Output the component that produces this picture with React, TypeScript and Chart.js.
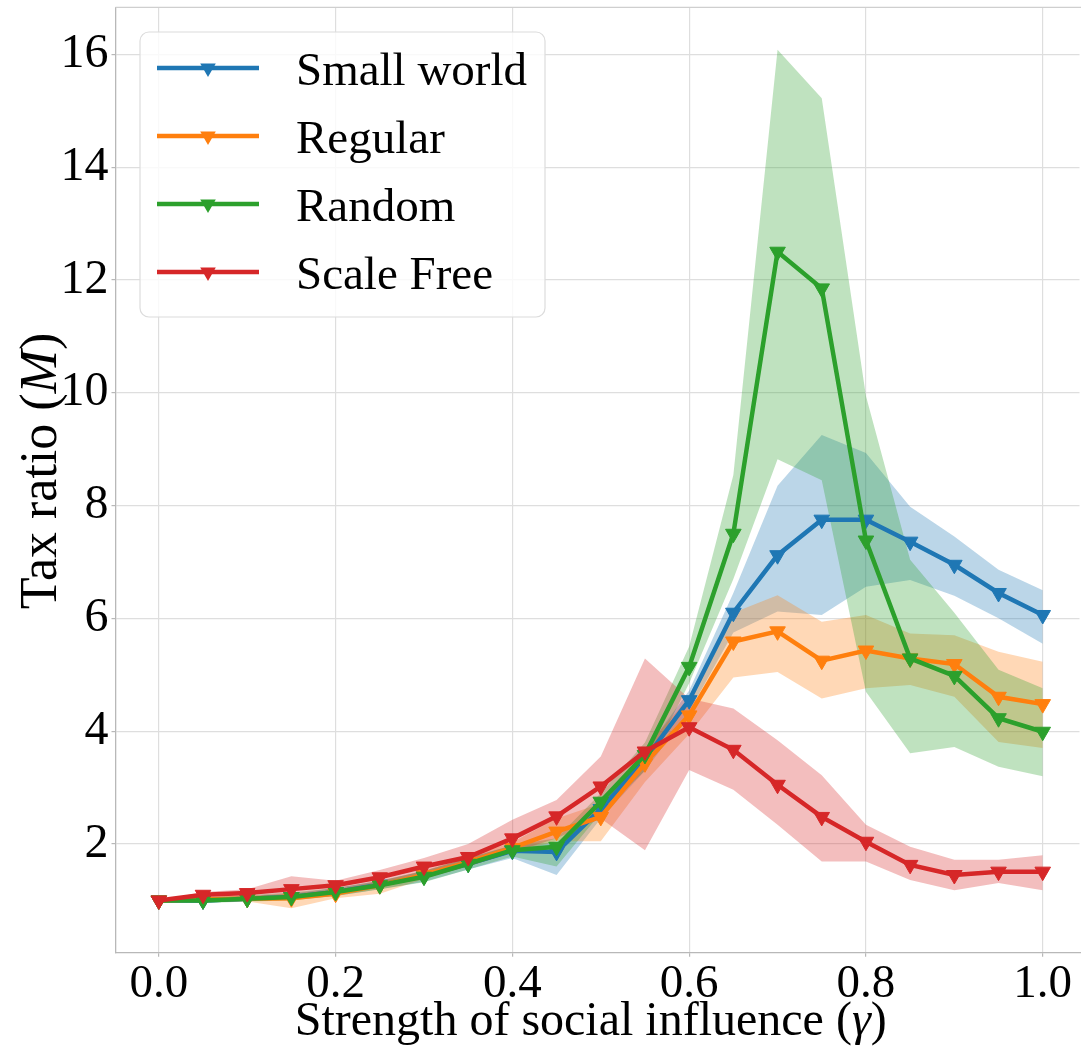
import { useEffect, useRef } from 'react';
import { Chart, registerables } from 'chart.js';

Chart.register(...registerables);

// ---------- data ----------
const gammas = [0, 0.05, 0.1, 0.15, 0.2, 0.25, 0.3, 0.35, 0.4, 0.45, 0.5, 0.55, 0.6, 0.65, 0.7, 0.75, 0.8, 0.85, 0.9, 0.95, 1.0];

const seriesNames = ['Small world', 'Regular', 'Random', 'Scale Free'];
const seriesColors = ['#1f77b4', '#ff7f0e', '#2ca02c', '#d62728'];

const smallWorldMean = [1.0, 1.0, 1.03, 1.06, 1.15, 1.28, 1.43, 1.65, 1.88, 1.86, 2.62, 3.5, 4.55, 6.1, 7.12, 7.75, 7.75, 7.36, 6.95, 6.45, 6.06];
const smallWorldUpper = [1.0, 1.04, 1.07, 1.12, 1.22, 1.35, 1.52, 1.75, 1.98, 2.02, 2.75, 3.65, 4.72, 6.45, 8.35, 9.25, 8.93, 7.98, 7.45, 6.86, 6.5];
const smallWorldLower = [1.0, 0.96, 0.99, 1.01, 1.08, 1.2, 1.33, 1.55, 1.75, 1.45, 2.45, 3.3, 4.35, 5.75, 6.12, 6.06, 6.56, 6.68, 6.4, 6.0, 5.55];

const regularMean = [1.0, 1.02, 1.03, 1.04, 1.12, 1.27, 1.45, 1.68, 1.93, 2.22, 2.48, 3.43, 4.28, 5.59, 5.77, 5.25, 5.43, 5.29, 5.19, 4.61, 4.48];
const regularUpper = [1.0, 1.06, 1.08, 1.12, 1.19, 1.34, 1.53, 1.77, 2.03, 2.45, 2.72, 3.7, 4.6, 6.1, 6.41, 5.94, 6.06, 5.73, 5.7, 5.41, 5.23];
const regularLower = [1.0, 0.98, 0.98, 0.86, 1.04, 1.12, 1.38, 1.6, 1.85, 2.05, 2.05, 3.1, 3.95, 4.95, 5.05, 4.58, 4.76, 4.82, 4.61, 3.81, 3.7];

const randomMean = [1.0, 1.0, 1.03, 1.06, 1.15, 1.27, 1.42, 1.65, 1.89, 1.95, 2.75, 3.58, 5.14, 7.5, 12.5, 11.85, 7.38, 5.29, 4.98, 4.23, 3.99];
const randomUpper = [1.0, 1.05, 1.09, 1.14, 1.22, 1.35, 1.52, 1.75, 1.98, 2.1, 2.9, 3.8, 5.5, 8.54, 16.08, 15.22, 9.94, 7.04, 6.1, 5.09, 4.76];
const randomLower = [1.0, 0.95, 0.98, 1.0, 1.08, 1.2, 1.32, 1.55, 1.78, 1.6, 2.55, 3.3, 4.85, 6.7, 8.82, 8.45, 4.7, 3.61, 3.72, 3.37, 3.2];

const scaleFreeMean = [1.0, 1.1, 1.13, 1.2, 1.27, 1.41, 1.6, 1.77, 2.1, 2.49, 3.02, 3.64, 4.07, 3.67, 3.05, 2.48, 2.04, 1.63, 1.45, 1.51, 1.51];
const scaleFreeUpper = [1.0, 1.15, 1.2, 1.43, 1.35, 1.54, 1.75, 2.0, 2.43, 2.78, 3.55, 5.29, 4.58, 4.4, 3.84, 3.22, 2.34, 1.95, 1.72, 1.72, 1.8];
const scaleFreeLower = [1.0, 1.05, 1.06, 1.02, 1.18, 1.28, 1.45, 1.6, 1.85, 2.1, 2.45, 1.89, 3.31, 2.96, 2.34, 1.69, 1.69, 1.36, 1.18, 1.31, 1.18];

const xTicks = [0.0, 0.2, 0.4, 0.6, 0.8, 1.0];
const yTicks = [2, 4, 6, 8, 10, 12, 14, 16];

const xTitle = 'Strength of social influence (';
const xTitleSymbol = 'γ';
const yTitle = 'Tax ratio (';
const yTitleSymbol = 'M';

// ---------- helpers ----------
const FONT = '"Liberation Serif", "Times New Roman", serif';

function rgba(hex: string, a: number) {
  const n = parseInt(hex.slice(1), 16);
  return `rgba(${(n >> 16) & 255},${(n >> 8) & 255},${n & 255},${a})`;
}

function pts(vals: number[]) {
  return gammas.map((g, i) => ({ x: g, y: vals[i] }));
}

type Run = { t: string; font: string };
function drawRuns(ctx: CanvasRenderingContext2D, runs: Run[], cx: number, baseline: number) {
  let total = 0;
  runs.forEach((r) => {
    ctx.font = r.font;
    total += ctx.measureText(r.t).width;
  });
  let x = cx - total / 2;
  ctx.textAlign = 'left';
  ctx.textBaseline = 'alphabetic';
  runs.forEach((r) => {
    ctx.font = r.font;
    ctx.fillText(r.t, x, baseline);
    x += ctx.measureText(r.t).width;
  });
}

function noPad(s: any) {
  s.paddingTop = 0;
  s.paddingBottom = 0;
  s.paddingLeft = 0;
  s.paddingRight = 0;
}

const overlayPlugin = {
  id: 'overlay',
  afterDraw(chart: any) {
    const ctx: CanvasRenderingContext2D = chart.ctx;
    const { left, top, right, bottom } = chart.chartArea;
    ctx.save();
    // the axes box is open on the right (cut off): keep that edge clean
    ctx.fillStyle = '#fff';
    ctx.fillRect(right - 1.5, top + 1, 2, bottom - top - 2);
    // top spine
    ctx.strokeStyle = '#cfcfcf';
    ctx.lineWidth = 1.2;
    ctx.beginPath();
    ctx.moveTo(left, top);
    ctx.lineTo(right, top);
    ctx.stroke();

    ctx.fillStyle = '#000';
    // x title (centered on the full axis span)
    const xs = chart.scales.x;
    const cx = (xs.getPixelForValue(-0.05) + xs.getPixelForValue(1.05)) / 2 - 10;
    drawRuns(
      ctx,
      [
        { t: xTitle, font: `48px ${FONT}` },
        { t: xTitleSymbol, font: `italic 48px ${FONT}` },
        { t: ')', font: `48px ${FONT}` },
      ],
      cx,
      1035
    );
    // y title
    const ys = chart.scales.y;
    const cy = (ys.top + ys.bottom) / 2 - 9;
    ctx.save();
    ctx.translate(56, cy);
    ctx.rotate(-Math.PI / 2);
    drawRuns(
      ctx,
      [
        { t: yTitle, font: `52px ${FONT}` },
        { t: yTitleSymbol, font: `italic 52px ${FONT}` },
        { t: ')', font: `52px ${FONT}` },
      ],
      0,
      0
    );
    ctx.restore();

    // legend
    const bx = 140, by = 32, bw = 405, bh = 285, br = 9;
    ctx.beginPath();
    ctx.moveTo(bx + br, by);
    ctx.lineTo(bx + bw - br, by);
    ctx.arcTo(bx + bw, by, bx + bw, by + br, br);
    ctx.lineTo(bx + bw, by + bh - br);
    ctx.arcTo(bx + bw, by + bh, bx + bw - br, by + bh, br);
    ctx.lineTo(bx + br, by + bh);
    ctx.arcTo(bx, by + bh, bx, by + bh - br, br);
    ctx.lineTo(bx, by + br);
    ctx.arcTo(bx, by, bx + br, by, br);
    ctx.closePath();
    ctx.fillStyle = 'rgba(255,255,255,0.8)';
    ctx.fill();
    ctx.strokeStyle = '#dcdcdc';
    ctx.lineWidth = 1.2;
    ctx.stroke();

    seriesNames.forEach((name, k) => {
      const ly = 68 + k * 68;
      ctx.strokeStyle = seriesColors[k];
      ctx.lineWidth = 4.5;
      ctx.beginPath();
      ctx.moveTo(157, ly);
      ctx.lineTo(259, ly);
      ctx.stroke();
      // downward triangle marker
      const r = 9;
      ctx.fillStyle = seriesColors[k];
      ctx.beginPath();
      ctx.moveTo(208, ly + r);
      ctx.lineTo(208 - r * 0.866, ly - r * 0.5);
      ctx.lineTo(208 + r * 0.866, ly - r * 0.5);
      ctx.closePath();
      ctx.fill();
      ctx.fillStyle = '#000';
      ctx.font = `47px ${FONT}`;
      ctx.textAlign = 'left';
      ctx.textBaseline = 'alphabetic';
      ctx.fillText(name, 296, ly + 17);
    });
    ctx.restore();
  },
};

export default function App() {
  const ref = useRef<HTMLCanvasElement | null>(null);

  useEffect(() => {
    document.body.style.margin = '0';
    const canvas = ref.current;
    if (!canvas) return;

    const means = [smallWorldMean, regularMean, randomMean, scaleFreeMean];
    const uppers = [smallWorldUpper, regularUpper, randomUpper, scaleFreeUpper];
    const lowers = [smallWorldLower, regularLower, randomLower, scaleFreeLower];

    const datasets: any[] = [];
    seriesNames.forEach((name, i) => {
      datasets.push({
        label: name + ' upper',
        data: pts(uppers[i]),
        borderWidth: 0,
        borderColor: 'rgba(0,0,0,0)',
        backgroundColor: rgba(seriesColors[i], 0.3),
        pointRadius: 0,
        fill: i * 2 + 1,
        order: 23 - i,
      });
      datasets.push({
        label: name + ' lower',
        data: pts(lowers[i]),
        borderWidth: 0,
        borderColor: 'rgba(0,0,0,0)',
        pointRadius: 0,
        fill: false,
        order: 30,
      });
    });
    seriesNames.forEach((name, i) => {
      datasets.push({
        label: name,
        data: pts(means[i]),
        borderColor: seriesColors[i],
        backgroundColor: seriesColors[i],
        borderWidth: 4.5,
        pointStyle: 'triangle',
        rotation: 180,
        pointRadius: 9,
        pointBorderWidth: 1,
        pointBackgroundColor: seriesColors[i],
        pointBorderColor: seriesColors[i],
        fill: false,
        order: 3 - i,
      });
    });

    const chart = new Chart(canvas, {
      type: 'line',
      data: { datasets },
      options: {
        animation: false,
        responsive: false,
        events: [],
        layout: { autoPadding: false, padding: { top: 7.3, left: 0, right: 0, bottom: 0 } },
        plugins: { legend: { display: false }, tooltip: { enabled: false } },
        elements: { line: { tension: 0 } },
        scales: {
          x: {
            type: 'linear',
            min: -0.049,
            max: 1.0433,
            afterBuildTicks: (s: any) => {
              s.ticks = xTicks.map((v) => ({ value: v }));
            },
            afterFit: (s: any) => {
              s.height = 97.3;
              noPad(s);
            },
            ticks: {
              callback: (v: any) => Number(v).toFixed(1),
              font: { family: FONT, size: 47 },
              color: '#000',
              autoSkip: false,
              includeBounds: false,
              maxRotation: 0,
              padding: 0,
            },
            grid: { color: '#dedede', lineWidth: 1.2, tickLength: 4, tickColor: '#b8b8b8' },
            border: { color: '#b8b8b8', width: 1.3 },
          },
          y: {
            type: 'linear',
            min: 0.073,
            max: 16.833,
            afterBuildTicks: (s: any) => {
              s.ticks = yTicks.map((v) => ({ value: v }));
            },
            afterFit: (s: any) => {
              s.width = 115.5;
              noPad(s);
            },
            ticks: {
              callback: (v: any) => String(v),
              font: { family: FONT, size: 48 },
              color: '#000',
              autoSkip: false,
              includeBounds: false,
              padding: 3,
            },
            grid: { color: '#dedede', lineWidth: 1.2, tickLength: 4, tickColor: '#b8b8b8' },
            border: { color: '#b8b8b8', width: 1.3 },
          },
        },
      },
      plugins: [overlayPlugin],
    });

    return () => chart.destroy();
  }, []);

  return <canvas ref={ref} width={1081} height={1050} style={{ display: 'block' }} />;
}
